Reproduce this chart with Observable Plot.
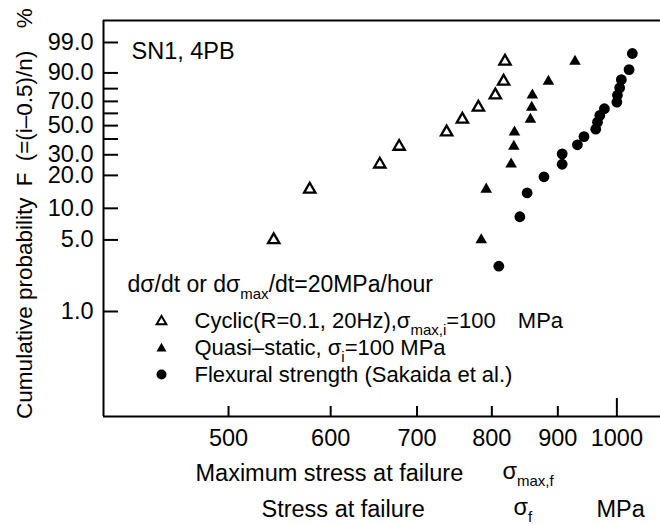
<!DOCTYPE html>
<html><head><meta charset="utf-8">
<script src="https://cdn.jsdelivr.net/npm/d3@7"></script>
<script src="https://cdn.jsdelivr.net/npm/@observablehq/plot@0.6"></script>
<style>
body{margin:0;background:#fff;}
svg text{white-space:pre;}
</style>
</head><body><div id="chart"></div>
<script>
// ---- data (stress in MPa, cumulative probability F in %) ----
const rankF10 = [5, 15, 25, 35, 45, 55, 65, 75, 85, 95];
const cyclicStress = [542, 578, 655, 678, 738, 759, 781, 805, 817, 819];
const quasiStress = [785, 792, 828, 832, 833, 857, 859, 860, 885, 928];
const flexF = [2.78, 8.33, 13.89, 19.44, 25.0, 30.56, 36.11, 41.67, 47.22, 52.78, 58.33, 63.89, 69.44, 75.0, 80.56, 86.11, 91.67, 97.22];
const flexStress = [810, 841, 852, 878, 907, 907, 932, 943, 963, 966, 970, 978, 1000, 1001, 1005, 1008, 1022, 1028];

const xTickValues = [500, 600, 700, 800, 900, 1000];
const yTickLabels = [1, 5, 10, 20, 30, 50, 70, 90, 99];
const yTickMinor = [40, 60, 80];

const panelLabel = "SN1, 4PB";
const legendTitle = "dσ/dt or dσ_{max}/dt=20MPa/hour";
const legendCyclic = "Cyclic(R=0.1, 20Hz),σ_{max,i}=100\u2003MPa";
const legendQuasi = "Quasi–static, σ_{i}=100 MPa";
const legendFlex = "Flexural strength (Sakaida et al.)";
const yTitle = "Cumulative probability\u2002F\u2002(=(i–0.5)/n)\u2002\u2002%";
const xTitle1 = "Maximum stress at failure";
const xTitle1Sym = "σ_{max,f}";
const xTitle2 = "Stress at failure";
const xTitle2Sym = "σ_{f}";
const xTitleUnit = "MPa";

// ---- helpers ----
const weib = F => Math.log(-Math.log(1 - F / 100));
const cyclic = rankF10.map((F, i) => ({s: cyclicStress[i], F}));
const quasi = rankF10.map((F, i) => ({s: quasiStress[i], F}));
const flex = flexF.map((F, i) => ({s: flexStress[i], F}));

const xDomain = [400, 1081];
const yDomain = [-6.992, 2.028];
const yLabelW = yTickLabels.map(weib);
const yAllW = [...yTickLabels, ...yTickMinor].map(weib);
const axisFs = 23.5;
const txt = {fontSize: 22, textAnchor: "start", lineAnchor: "middle", fill: "black"};
const ttl = {...txt, fontSize: 23.5};

const chart = Plot.plot({
  width: 660,
  height: 525,
  marginLeft: 103,
  marginRight: 0,
  marginTop: 20,
  marginBottom: 109,
  style: {fontFamily: "'Liberation Sans', Arial, Helvetica, sans-serif", fontSize: "22px", color: "black", background: "white"},
  x: {type: "log", domain: xDomain},
  y: {type: "linear", domain: yDomain},
  marks: [
    // frame (left, top, bottom)
    Plot.ruleX([xDomain[0]], {strokeWidth: 2}),
    Plot.ruleY([yDomain[0]], {strokeWidth: 2}),
    Plot.ruleY([yDomain[1]], {strokeWidth: 2}),
    // inward ticks
    Plot.axisY(yAllW, {anchor: "left", tickSize: 15, dx: 15, strokeWidth: 2, tickFormat: () => "", label: null}),
    Plot.axisY(yLabelW, {anchor: "left", tickSize: 0, tickPadding: 10, fontSize: axisFs,
      tickFormat: w => yTickLabels[yLabelW.indexOf(w)].toFixed(1), label: null}),
    Plot.axisX(xTickValues.slice(0, 5), {anchor: "bottom", tickSize: 10, dy: -10, strokeWidth: 2, tickFormat: () => "", label: null}),
    Plot.axisX(xTickValues.slice(5), {anchor: "bottom", tickSize: 18, dy: -18, strokeWidth: 2, tickFormat: () => "", label: null}),
    Plot.axisX(xTickValues, {anchor: "bottom", tickSize: 0, tickPadding: 13, fontSize: axisFs, tickFormat: d => String(d), label: null}),
    // data
    Plot.dot(cyclic, {x: "s", y: d => weib(d.F), symbol: "triangle", r: 4.2, fill: "white", stroke: "black", strokeWidth: 2.3}),
    Plot.dot(quasi, {x: "s", y: d => weib(d.F), symbol: "triangle", r: 4.3, fill: "black", stroke: "none"}),
    Plot.dot(flex, {x: "s", y: d => weib(d.F), symbol: "circle", r: 5.4, fill: "black", stroke: "none"}),
    // annotations
    Plot.text([panelLabel], {...ttl, frameAnchor: "top-left", dx: 28, dy: 31}),
    Plot.text([legendTitle], {...txt, fontSize: 23, frameAnchor: "top-left", dx: 24, dy: 264}),
    Plot.dot([legendCyclic], {frameAnchor: "top-left", dx: 58, dy: 301, symbol: "triangle", r: 3.6, fill: "white", stroke: "black", strokeWidth: 2}),
    Plot.dot([legendQuasi], {frameAnchor: "top-left", dx: 58, dy: 328, symbol: "triangle", r: 3.7, fill: "black", stroke: "none"}),
    Plot.dot([legendFlex], {frameAnchor: "top-left", dx: 58, dy: 354, symbol: "circle", r: 5, fill: "black", stroke: "none"}),
    Plot.text([legendCyclic], {...txt, frameAnchor: "top-left", dx: 91, dy: 300}),
    Plot.text([legendQuasi], {...txt, frameAnchor: "top-left", dx: 91, dy: 327}),
    Plot.text([legendFlex], {...txt, frameAnchor: "top-left", dx: 91, dy: 354}),
    // axis titles
    Plot.text([yTitle], {fontSize: 22.5, fill: "black", frameAnchor: "left", textAnchor: "middle", lineAnchor: "middle", rotate: -90, dx: -79, dy: -5}),
    Plot.text([xTitle1], {...ttl, frameAnchor: "bottom-left", dx: 92, dy: 57}),
    Plot.text([xTitle1Sym], {...ttl, frameAnchor: "bottom-left", dx: 399, dy: 55}),
    Plot.text([xTitle2], {...ttl, frameAnchor: "bottom-left", dx: 158, dy: 93}),
    Plot.text([xTitle2Sym], {...ttl, frameAnchor: "bottom-left", dx: 410, dy: 91}),
    Plot.text([xTitleUnit], {...ttl, frameAnchor: "bottom-left", dx: 493, dy: 93})
  ]
});

// subscripts: turn "_{...}" into real tspans
const NS = "http://www.w3.org/2000/svg";
chart.querySelectorAll("text").forEach(t => {
  const s = t.textContent;
  if (!s.includes("_{")) return;
  t.textContent = "";
  let shifted = false;
  for (const p of s.split(/(_\{[^}]*\})/)) {
    if (!p) continue;
    const ts = document.createElementNS(NS, "tspan");
    if (p.startsWith("_{")) {
      ts.textContent = p.slice(2, -1);
      ts.setAttribute("font-size", "15");
      ts.setAttribute("dy", "7");
      shifted = true;
    } else {
      ts.textContent = p;
      if (shifted) { ts.setAttribute("dy", "-7"); shifted = false; }
    }
    t.appendChild(ts);
  }
});

document.getElementById("chart").appendChild(chart);
</script>
</body></html>
